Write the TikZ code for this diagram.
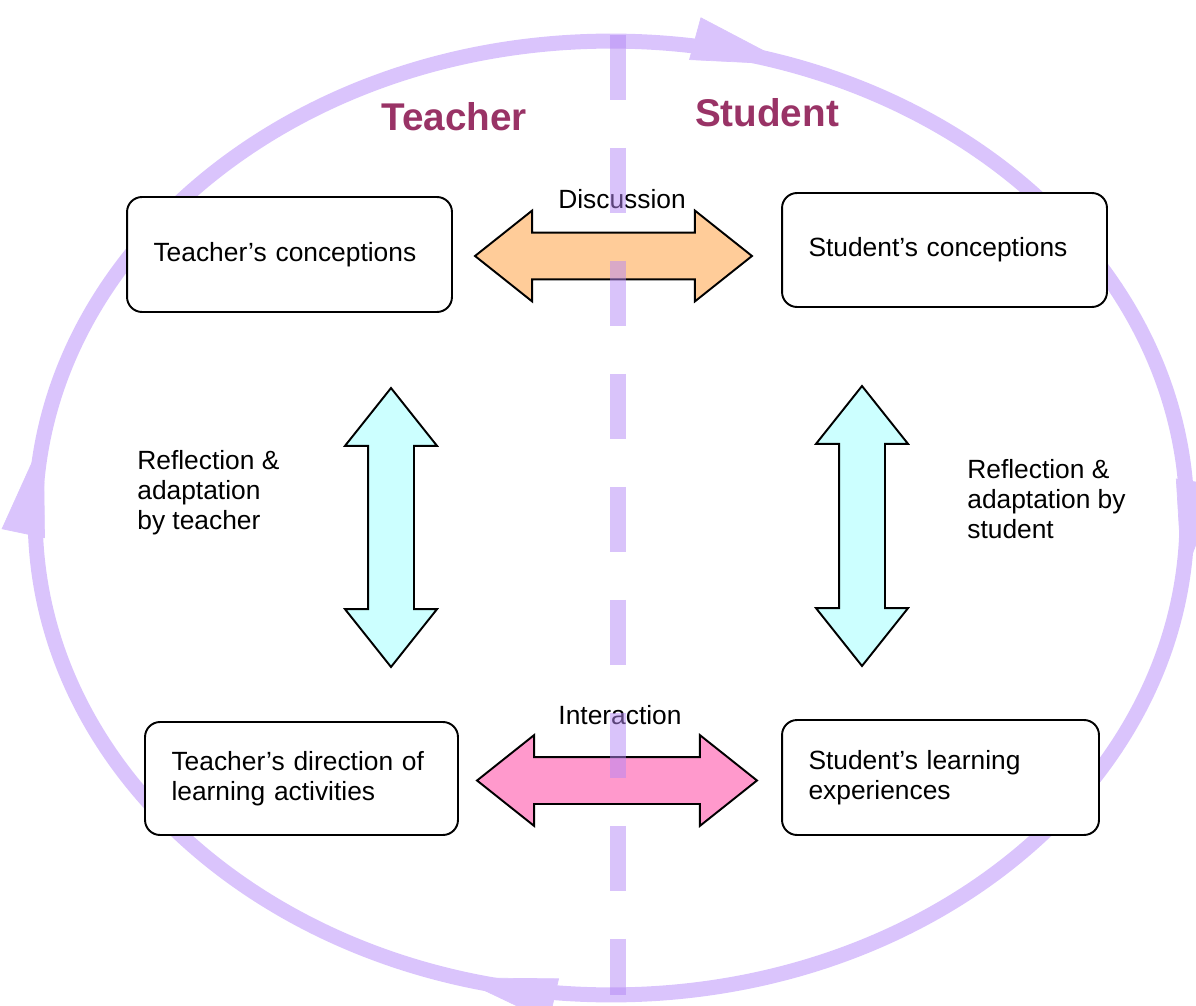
\documentclass[tikz,border=0pt]{standalone}
\usepackage{fontspec}
\setmainfont{Liberation Sans}
\usetikzlibrary{shapes.arrows,arrows.meta,decorations.markings}
\definecolor{lilac}{RGB}{218,196,252}
\definecolor{lilacdash}{RGB}{180,135,245}
\definecolor{wine}{RGB}{153,51,102}
\definecolor{peach}{RGB}{255,204,153}
\definecolor{rose}{RGB}{255,153,204}
\definecolor{aqua}{RGB}{204,255,255}

\begin{document}
\begin{tikzpicture}[x=0.02cm, y=-0.02cm, font=\fontsize{15}{17}\selectfont,
box/.style={ rectangle, draw, line width=1.1pt, rounded corners=0.3cm, fill=white, inner xsep=0.53cm, align=left },
title/.style={ text=wine, font=\fontsize{22}{26}\selectfont\bfseries },
dblarrow/.style={ double arrow, draw, line width=1.1pt, inner xsep=0pt, inner ysep=0.45cm, double arrow head extend=0.44cm, double arrow tip angle=77 },
cycle/.style={ lilac, line width=0.3cm, postaction={decorate},
	decoration={markings,
	mark=at position 0.019 with {\arrow{Triangle[length=2cm, width=0.88cm, line width=0.4pt]}},
	mark=at position 0.297 with {\arrow{Triangle[length=2cm, width=0.88cm, line width=0.4pt]}},
	mark=at position 0.525 with {\arrow{Triangle[length=2cm, width=0.88cm, line width=0.4pt]}},
	mark=at position 0.805 with {\arrow{Triangle[length=2cm, width=0.88cm, line width=0.4pt]}}}}]

\useasboundingbox (0,0) rectangle (1196,1006);

%the cycle round everything
\draw [cycle] (1187,518) arc [start angle=0, end angle=-360, x radius=11.52cm, y radius=9.54cm];

%boxes
\node (tcon) [box, minimum width=6.5cm, minimum height=2.3cm, text width=5.44cm] at (289.5,254.5) {Teacher’s conceptions};
\node (scon) [box, minimum width=6.5cm, minimum height=2.28cm, text width=5.44cm] at (944.5,250) {Student’s conceptions};
\node (tdir) [box, minimum width=6.26cm, minimum height=2.26cm, text width=5.2cm] at (301.5,778.5) {Teacher’s direction of\\learning activities};
\node (slearn) [box, minimum width=6.34cm, minimum height=2.3cm, text width=5.28cm] at (940.5,777.5) {Student’s learning\\experiences};

%block arrows
\node (disc) [dblarrow, fill=peach, minimum height=5.54cm] at (613.5,256) {};
\node (inter) [dblarrow, fill=rose, minimum height=5.6cm] at (617,780.5) {};
\node (tref) [dblarrow, fill=aqua, rotate=90, inner ysep=0.44cm, double arrow head extend=0.46cm, minimum height=5.58cm] at (391,527.5) {};
\node (sref) [dblarrow, fill=aqua, rotate=90, inner ysep=0.44cm, double arrow head extend=0.46cm, minimum height=5.6cm] at (862,526) {};

%labels
\node (ttitle) [title] at (454,117) {Teacher};
\node (stitle) [title] at (767,113) {Student};
\node (dlab) at (622,199) {Discussion};
\node (ilab) at (620,715) {Interaction};
\node (tlab) [anchor=west, align=left, inner sep=0pt] at (137,493) {Reflection \&\\adaptation\\by teacher};
\node (slab) [anchor=west, align=left, inner sep=0pt] at (967,499) {Reflection \&\\adaptation by\\student};

%dashed divider
\coordinate (dtop) at (618,35);
\coordinate (dbot) at (618,995);
\draw [lilacdash, draw opacity=0.5, line width=0.32cm, dash pattern=on 1.3cm off 0.96cm] (dtop) -- (dbot);

\end{tikzpicture}
\end{document}
